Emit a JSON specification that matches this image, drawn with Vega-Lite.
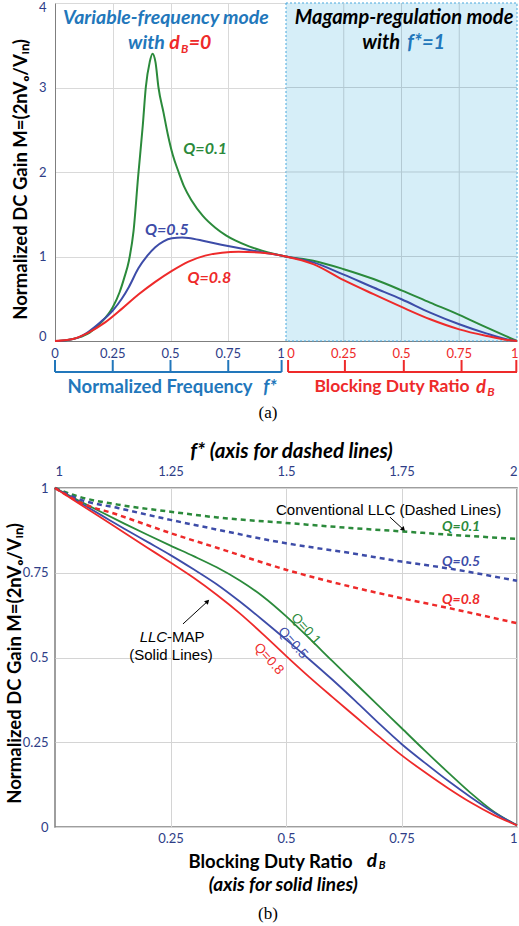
{
  "$schema": "https://vega.github.io/schema/vega-lite/v6.json",
  "background": "white",
  "padding": {"left": 4, "top": 1, "right": 0, "bottom": 0},
  "bounds": "flush",
  "spacing": 147,
  "config": {"font": "Lato", "view": {"stroke": null}, "axis": {"labelFont": "Lato", "titleFont": "Lato"}},
  "vconcat": [
    {
      "width": 462,
      "height": 338,
      "encoding": {
        "x": {"field": "x", "type": "quantitative", "scale": {"domain": [0, 2], "nice": false},
              "axis": {"values": [0.25, 0.5, 0.75], "grid": true, "gridColor": "#D9D9D9", "labels": false, "ticks": false, "domainColor": "#7F7F7F", "title": null}},
        "y": {"field": "y", "type": "quantitative", "scale": {"domain": [0, 4], "nice": false},
              "axis": {"values": [0, 1, 2, 3, 4], "format": "~g", "grid": true, "gridColor": "#D9D9D9", "ticks": false, "domainColor": "#7F7F7F",
                       "labelColor": "#2E3D87", "labelFontSize": 13, "labelPadding": 9, "labelFlush": true, "labelFlushOffset": 2,
                       "title": "Normalized DC Gain M=(2nVₒ/Vᵢₙ)", "titleFontSize": 18.5, "titleFontWeight": "bold", "titleColor": "#000000",
                       "titleX": -35, "titleY": 176, "titleAngle": -90, "titleAlign": "center", "titleBaseline": "middle"}},
        "color": {"field": "g", "type": "nominal",
                  "scale": {"domain": ["0.1", "0.5", "0.8", "f", "d", "k", "lab"], "range": ["#2B8A3B", "#3D4CA8", "#EE2A2A", "#2277BB", "#EE2A2A", "#000000", "#2E3D87"]},
                  "legend": null}
      },
      "layer": [
        {
          "data": {"values": [{"x": 1, "x2": 2, "y": 0, "y2": 4}]},
          "mark": {"type": "rect", "stroke": "#4BA8DC", "strokeDash": [2, 2], "strokeWidth": 1},
          "encoding": {"x2": {"field": "x2"}, "y2": {"field": "y2"}, "color": {"value": "#D6EEF8"}}
        },
        {
          "data": {"values": [
            {"x": 1.25, "x2": 1.25, "y": 0, "y2": 4},
            {"x": 1.5, "x2": 1.5, "y": 0, "y2": 4},
            {"x": 1.75, "x2": 1.75, "y": 0, "y2": 4},
            {"x": 1, "x2": 2, "y": 1, "y2": 1},
            {"x": 1, "x2": 2, "y": 2, "y2": 2},
            {"x": 1, "x2": 2, "y": 3, "y2": 3}
          ]},
          "mark": {"type": "rule", "strokeWidth": 1},
          "encoding": {"x2": {"field": "x2"}, "y2": {"field": "y2"}, "color": {"value": "#B3C9D3"}}
        },
        {
          "data": {"values": [
            {"x": 0, "y": 0, "g": "0.1"}, {"x": 0.05, "y": 0.01, "g": "0.1"}, {"x": 0.1, "y": 0.04, "g": "0.1"}, {"x": 0.15, "y": 0.1, "g": "0.1"},
            {"x": 0.2, "y": 0.22, "g": "0.1"}, {"x": 0.25, "y": 0.4, "g": "0.1"}, {"x": 0.28, "y": 0.58, "g": "0.1"}, {"x": 0.3, "y": 0.75, "g": "0.1"},
            {"x": 0.32, "y": 0.95, "g": "0.1"}, {"x": 0.34, "y": 1.3, "g": "0.1"}, {"x": 0.36, "y": 1.95, "g": "0.1"}, {"x": 0.38, "y": 2.55, "g": "0.1"},
            {"x": 0.393, "y": 3.0, "g": "0.1"}, {"x": 0.41, "y": 3.3, "g": "0.1"}, {"x": 0.422, "y": 3.4, "g": "0.1"}, {"x": 0.435, "y": 3.3, "g": "0.1"},
            {"x": 0.448, "y": 3.0, "g": "0.1"}, {"x": 0.47, "y": 2.7, "g": "0.1"}, {"x": 0.488, "y": 2.45, "g": "0.1"}, {"x": 0.51, "y": 2.2, "g": "0.1"},
            {"x": 0.535, "y": 2.0, "g": "0.1"}, {"x": 0.56, "y": 1.82, "g": "0.1"}, {"x": 0.592, "y": 1.66, "g": "0.1"}, {"x": 0.64, "y": 1.48, "g": "0.1"},
            {"x": 0.694, "y": 1.34, "g": "0.1"}, {"x": 0.74, "y": 1.25, "g": "0.1"}, {"x": 0.78, "y": 1.19, "g": "0.1"}, {"x": 0.84, "y": 1.12, "g": "0.1"},
            {"x": 0.896, "y": 1.07, "g": "0.1"}, {"x": 0.95, "y": 1.03, "g": "0.1"}, {"x": 1.0, "y": 1.0, "g": "0.1"},
            {"x": 1.118, "y": 0.95, "g": "0.1"}, {"x": 1.25, "y": 0.85, "g": "0.1"}, {"x": 1.379, "y": 0.733, "g": "0.1"}, {"x": 1.5, "y": 0.6, "g": "0.1"},
            {"x": 1.624, "y": 0.455, "g": "0.1"}, {"x": 1.75, "y": 0.31, "g": "0.1"}, {"x": 1.87, "y": 0.158, "g": "0.1"}, {"x": 1.95, "y": 0.06, "g": "0.1"}, {"x": 2.0, "y": 0.0, "g": "0.1"},

            {"x": 0, "y": 0, "g": "0.5"}, {"x": 0.05, "y": 0.01, "g": "0.5"}, {"x": 0.1, "y": 0.04, "g": "0.5"}, {"x": 0.145, "y": 0.11, "g": "0.5"},
            {"x": 0.2, "y": 0.23, "g": "0.5"}, {"x": 0.25, "y": 0.36, "g": "0.5"}, {"x": 0.289, "y": 0.5, "g": "0.5"}, {"x": 0.32, "y": 0.64, "g": "0.5"},
            {"x": 0.361, "y": 0.86, "g": "0.5"}, {"x": 0.4, "y": 1.01, "g": "0.5"}, {"x": 0.434, "y": 1.11, "g": "0.5"}, {"x": 0.47, "y": 1.18, "g": "0.5"},
            {"x": 0.506, "y": 1.215, "g": "0.5"}, {"x": 0.55, "y": 1.225, "g": "0.5"}, {"x": 0.578, "y": 1.22, "g": "0.5"}, {"x": 0.65, "y": 1.18, "g": "0.5"},
            {"x": 0.72, "y": 1.14, "g": "0.5"}, {"x": 0.795, "y": 1.1, "g": "0.5"}, {"x": 0.896, "y": 1.05, "g": "0.5"}, {"x": 1.0, "y": 1.0, "g": "0.5"},
            {"x": 1.118, "y": 0.93, "g": "0.5"}, {"x": 1.25, "y": 0.785, "g": "0.5"}, {"x": 1.379, "y": 0.633, "g": "0.5"}, {"x": 1.5, "y": 0.494, "g": "0.5"},
            {"x": 1.624, "y": 0.336, "g": "0.5"}, {"x": 1.75, "y": 0.198, "g": "0.5"}, {"x": 1.87, "y": 0.087, "g": "0.5"}, {"x": 1.95, "y": 0.025, "g": "0.5"}, {"x": 2.0, "y": 0.0, "g": "0.5"},

            {"x": 0, "y": 0, "g": "0.8"}, {"x": 0.072, "y": 0.02, "g": "0.8"}, {"x": 0.145, "y": 0.1, "g": "0.8"}, {"x": 0.217, "y": 0.22, "g": "0.8"},
            {"x": 0.289, "y": 0.38, "g": "0.8"}, {"x": 0.361, "y": 0.55, "g": "0.8"}, {"x": 0.434, "y": 0.7, "g": "0.8"}, {"x": 0.506, "y": 0.83, "g": "0.8"},
            {"x": 0.578, "y": 0.94, "g": "0.8"}, {"x": 0.65, "y": 1.01, "g": "0.8"}, {"x": 0.723, "y": 1.045, "g": "0.8"}, {"x": 0.795, "y": 1.055, "g": "0.8"},
            {"x": 0.896, "y": 1.045, "g": "0.8"}, {"x": 1.0, "y": 1.0, "g": "0.8"},
            {"x": 1.118, "y": 0.91, "g": "0.8"}, {"x": 1.25, "y": 0.72, "g": "0.8"}, {"x": 1.379, "y": 0.554, "g": "0.8"}, {"x": 1.5, "y": 0.403, "g": "0.8"},
            {"x": 1.624, "y": 0.257, "g": "0.8"}, {"x": 1.75, "y": 0.138, "g": "0.8"}, {"x": 1.87, "y": 0.059, "g": "0.8"}, {"x": 1.95, "y": 0.015, "g": "0.8"}, {"x": 2.0, "y": 0.0, "g": "0.8"}
          ]},
          "mark": {"type": "line", "strokeWidth": 2, "interpolate": "monotone"}
        },
        {
          "data": {"values": [
            {"x": 0, "x2": 0.981, "y": -0.367, "y2": -0.367, "g": "f"},
            {"x": 0, "x2": 0, "y": -0.225, "y2": -0.367, "g": "f"},
            {"x": 0.25, "x2": 0.25, "y": -0.225, "y2": -0.367, "g": "f"},
            {"x": 0.5, "x2": 0.5, "y": -0.225, "y2": -0.367, "g": "f"},
            {"x": 0.75, "x2": 0.75, "y": -0.225, "y2": -0.367, "g": "f"},
            {"x": 0.981, "x2": 0.981, "y": -0.225, "y2": -0.367, "g": "f"},
            {"x": 1.009, "x2": 2.0, "y": -0.367, "y2": -0.367, "g": "d"},
            {"x": 1.009, "x2": 1.009, "y": -0.225, "y2": -0.367, "g": "d"},
            {"x": 1.255, "x2": 1.255, "y": -0.225, "y2": -0.367, "g": "d"},
            {"x": 1.51, "x2": 1.51, "y": -0.225, "y2": -0.367, "g": "d"},
            {"x": 1.76, "x2": 1.76, "y": -0.225, "y2": -0.367, "g": "d"},
            {"x": 1.997, "x2": 1.997, "y": -0.225, "y2": -0.367, "g": "d"}
          ]},
          "mark": {"type": "rule", "strokeWidth": 2},
          "encoding": {"x2": {"field": "x2"}, "y2": {"field": "y2"}}
        },
        {
          "data": {"values": [
            {"x": 0, "y": -0.154, "t": "0", "g": "lab"},
            {"x": 0.25, "y": -0.154, "t": "0.25", "g": "lab"},
            {"x": 0.5, "y": -0.154, "t": "0.5", "g": "lab"},
            {"x": 0.75, "y": -0.154, "t": "0.75", "g": "lab"},
            {"x": 0.978, "y": -0.154, "t": "1", "g": "lab"},
            {"x": 1.022, "y": -0.154, "t": "0", "g": "d"},
            {"x": 1.25, "y": -0.154, "t": "0.25", "g": "d"},
            {"x": 1.5, "y": -0.154, "t": "0.5", "g": "d"},
            {"x": 1.75, "y": -0.154, "t": "0.75", "g": "d"},
            {"x": 1.99, "y": -0.154, "t": "1", "g": "d"}
          ]},
          "mark": {"type": "text", "font": "Lato", "fontSize": 13, "baseline": "middle", "align": "center"},
          "encoding": {"text": {"field": "t"}}
        },
        {
          "data": {"values": [
            {"x": 0.48, "y": 3.82, "t": "Variable-frequency mode", "g": "f"},
            {"x": 0.396, "y": 3.53, "t": "with", "g": "f"},
            {"x": 0.517, "y": 3.53, "t": "d", "g": "d"},
            {"x": 0.628, "y": 3.53, "t": "=0", "g": "d"}
          ]},
          "mark": {"type": "text", "font": "Lato", "fontSize": 19.5, "fontWeight": "bold", "fontStyle": "italic", "baseline": "middle", "align": "center"},
          "encoding": {"text": {"field": "t"}}
        },
        {
          "data": {"values": [
            {"x": 1.511, "y": 3.82, "t": "Magamp-regulation mode", "g": "k"},
            {"x": 1.412, "y": 3.53, "t": "with", "g": "k"},
            {"x": 1.607, "y": 3.53, "t": "f*=1", "g": "f"}
          ]},
          "mark": {"type": "text", "font": "Lato", "fontSize": 20, "fontWeight": "bold", "fontStyle": "italic", "baseline": "middle", "align": "center"},
          "encoding": {"text": {"field": "t"}}
        },
        {
          "data": {"values": [
            {"x": 0.65, "y": 2.27, "t": "Q=0.1", "g": "0.1"},
            {"x": 0.484, "y": 1.31, "t": "Q=0.5", "g": "0.5"},
            {"x": 0.668, "y": 0.746, "t": "Q=0.8", "g": "0.8"}
          ]},
          "mark": {"type": "text", "font": "Lato", "fontSize": 16, "fontWeight": "bold", "fontStyle": "italic", "baseline": "middle", "align": "center"},
          "encoding": {"text": {"field": "t"}}
        },
        {
          "data": {"values": [
            {"x": 0.561, "y": 3.45, "t": "B", "g": "d"},
            {"x": 1.887, "y": -0.6, "t": "B", "g": "d"}
          ]},
          "mark": {"type": "text", "font": "Lato", "fontSize": 12, "fontWeight": "bold", "fontStyle": "italic", "baseline": "middle", "align": "center"},
          "encoding": {"text": {"field": "t"}}
        },
        {
          "data": {"values": [{"x": 0.455, "y": -0.544, "t": "Normalized Frequency", "g": "f"}]},
          "mark": {"type": "text", "font": "Lato", "fontSize": 18.5, "fontWeight": "bold", "baseline": "middle", "align": "center"},
          "encoding": {"text": {"field": "t"}}
        },
        {
          "data": {"values": [{"x": 1.459, "y": -0.544, "t": "Blocking Duty Ratio", "g": "d"}]},
          "mark": {"type": "text", "font": "Lato", "fontSize": 17.5, "fontWeight": "bold", "baseline": "middle", "align": "center"},
          "encoding": {"text": {"field": "t"}}
        },
        {
          "data": {"values": [
            {"x": 0.931, "y": -0.544, "t": "f*", "g": "f"},
            {"x": 1.844, "y": -0.544, "t": "d", "g": "d"}
          ]},
          "mark": {"type": "text", "font": "Lato", "fontSize": 18.5, "fontWeight": "bold", "fontStyle": "italic", "baseline": "middle", "align": "center"},
          "encoding": {"text": {"field": "t"}}
        },
        {
          "data": {"values": [{"x": 0.922, "y": -0.852, "t": "(a)", "g": "k"}]},
          "mark": {"type": "text", "font": "Liberation Serif", "fontSize": 17, "baseline": "middle", "align": "center"},
          "encoding": {"text": {"field": "t"}}
        }
      ]
    },
    {
      "width": 462,
      "height": 339,
      "view": {"stroke": "#7F7F7F", "strokeWidth": 1.5},
      "resolve": {"scale": {"x": "independent"}, "axis": {"x": "independent", "y": "independent"}},
      "layer": [
        {
          "encoding": {
            "x": {"field": "x", "type": "quantitative", "scale": {"domain": [0, 1], "nice": false},
                  "axis": {"orient": "bottom", "values": [0.25, 0.5, 0.75, 1], "labelExpr": "'' + datum.value", "grid": true, "gridColor": "#D4D4D4", "ticks": false, "domain": false,
                           "labelColor": "#2E3D87", "labelFontSize": 13, "labelPadding": 5,
                           "title": "Blocking Duty Ratio", "titleFontSize": 18.5, "titleFontWeight": "bold", "titleColor": "#000000",
                           "titleX": 215, "titleY": 34, "titleAlign": "center", "titleBaseline": "middle"}},
            "y": {"field": "y", "type": "quantitative", "scale": {"domain": [0, 1], "nice": false},
                  "axis": {"values": [0, 0.25, 0.5, 0.75, 1], "labelExpr": "'' + datum.value", "grid": true, "gridColor": "#D4D4D4", "ticks": false, "domain": false,
                           "labelColor": "#2E3D87", "labelFontSize": 13, "labelPadding": 7,
                           "title": "Normalized DC Gain  M=(2nVₒ/Vᵢₙ)", "titleFontSize": 18.5, "titleFontWeight": "bold", "titleColor": "#000000",
                           "titleX": -41, "titleY": 175, "titleAngle": -90, "titleAlign": "center", "titleBaseline": "middle"}},
            "color": {"field": "g", "type": "nominal",
                      "scale": {"domain": ["0.1", "0.5", "0.8", "f", "d", "k", "lab"], "range": ["#2B8A3B", "#3D4CA8", "#EE2A2A", "#2277BB", "#EE2A2A", "#000000", "#2E3D87"]},
                      "legend": null}
          },
          "layer": [
            {
              "data": {"values": [
                {"x": 0, "y": 1, "g": "0.1"}, {"x": 0.05, "y": 0.964, "g": "0.1"}, {"x": 0.1, "y": 0.929, "g": "0.1"}, {"x": 0.15, "y": 0.895, "g": "0.1"},
                {"x": 0.2, "y": 0.862, "g": "0.1"}, {"x": 0.25, "y": 0.83, "g": "0.1"}, {"x": 0.3, "y": 0.799, "g": "0.1"}, {"x": 0.35, "y": 0.766, "g": "0.1"},
                {"x": 0.4, "y": 0.727, "g": "0.1"}, {"x": 0.45, "y": 0.68, "g": "0.1"}, {"x": 0.5, "y": 0.622, "g": "0.1"}, {"x": 0.55, "y": 0.557, "g": "0.1"},
                {"x": 0.6, "y": 0.49, "g": "0.1"}, {"x": 0.65, "y": 0.424, "g": "0.1"}, {"x": 0.7, "y": 0.358, "g": "0.1"}, {"x": 0.75, "y": 0.292, "g": "0.1"},
                {"x": 0.8, "y": 0.226, "g": "0.1"}, {"x": 0.85, "y": 0.162, "g": "0.1"}, {"x": 0.9, "y": 0.1, "g": "0.1"}, {"x": 0.95, "y": 0.045, "g": "0.1"}, {"x": 1, "y": 0.005, "g": "0.1"},
                {"x": 0, "y": 1, "g": "0.5"}, {"x": 0.05, "y": 0.96, "g": "0.5"}, {"x": 0.1, "y": 0.92, "g": "0.5"}, {"x": 0.15, "y": 0.88, "g": "0.5"},
                {"x": 0.2, "y": 0.841, "g": "0.5"}, {"x": 0.25, "y": 0.802, "g": "0.5"}, {"x": 0.3, "y": 0.76, "g": "0.5"}, {"x": 0.35, "y": 0.716, "g": "0.5"},
                {"x": 0.4, "y": 0.665, "g": "0.5"}, {"x": 0.45, "y": 0.61, "g": "0.5"}, {"x": 0.5, "y": 0.553, "g": "0.5"}, {"x": 0.55, "y": 0.495, "g": "0.5"},
                {"x": 0.6, "y": 0.435, "g": "0.5"}, {"x": 0.65, "y": 0.372, "g": "0.5"}, {"x": 0.7, "y": 0.307, "g": "0.5"}, {"x": 0.75, "y": 0.245, "g": "0.5"},
                {"x": 0.8, "y": 0.19, "g": "0.5"}, {"x": 0.85, "y": 0.137, "g": "0.5"}, {"x": 0.9, "y": 0.088, "g": "0.5"}, {"x": 0.95, "y": 0.043, "g": "0.5"}, {"x": 1, "y": 0.005, "g": "0.5"},
                {"x": 0, "y": 1, "g": "0.8"}, {"x": 0.05, "y": 0.956, "g": "0.8"}, {"x": 0.1, "y": 0.912, "g": "0.8"}, {"x": 0.15, "y": 0.868, "g": "0.8"},
                {"x": 0.2, "y": 0.824, "g": "0.8"}, {"x": 0.25, "y": 0.78, "g": "0.8"}, {"x": 0.3, "y": 0.735, "g": "0.8"}, {"x": 0.35, "y": 0.685, "g": "0.8"},
                {"x": 0.4, "y": 0.63, "g": "0.8"}, {"x": 0.45, "y": 0.569, "g": "0.8"}, {"x": 0.5, "y": 0.505, "g": "0.8"}, {"x": 0.55, "y": 0.443, "g": "0.8"},
                {"x": 0.6, "y": 0.384, "g": "0.8"}, {"x": 0.65, "y": 0.326, "g": "0.8"}, {"x": 0.7, "y": 0.268, "g": "0.8"}, {"x": 0.75, "y": 0.212, "g": "0.8"},
                {"x": 0.8, "y": 0.162, "g": "0.8"}, {"x": 0.85, "y": 0.115, "g": "0.8"}, {"x": 0.9, "y": 0.072, "g": "0.8"}, {"x": 0.95, "y": 0.035, "g": "0.8"}, {"x": 1, "y": 0.005, "g": "0.8"}
              ]},
              "mark": {"type": "line", "strokeWidth": 1.8, "interpolate": "monotone"}
            },
            {
              "data": {"values": [
                {"x": 0.725, "y": 0.914, "x2": 0.753, "y2": 0.879},
                {"x": 0.277, "y": 0.599, "x2": 0.329, "y2": 0.664}
              ]},
              "mark": {"type": "rule", "strokeWidth": 1},
              "encoding": {"x2": {"field": "x2"}, "y2": {"field": "y2"}, "color": {"value": "#000000"}}
            },
            {
              "data": {"values": [{"x": 0.753, "y": 0.879}]},
              "mark": {"type": "point", "shape": "triangle", "filled": true, "angle": 135, "size": 28, "opacity": 1},
              "encoding": {"color": {"value": "#000000"}}
            },
            {
              "data": {"values": [{"x": 0.329, "y": 0.664}]},
              "mark": {"type": "point", "shape": "triangle", "filled": true, "angle": 44, "size": 28, "opacity": 1},
              "encoding": {"color": {"value": "#000000"}}
            },
            {
              "data": {"values": [
                {"x": 0.722, "y": 0.935, "t": "Conventional LLC (Dashed Lines)", "g": "k"},
                {"x": 0.283, "y": 0.56, "t": "-MAP", "g": "k"},
                {"x": 0.251, "y": 0.507, "t": "(Solid Lines)", "g": "k"}
              ]},
              "mark": {"type": "text", "font": "Liberation Sans", "fontSize": 15, "baseline": "middle", "align": "center"},
              "encoding": {"text": {"field": "t"}}
            },
            {
              "data": {"values": [{"x": 0.213, "y": 0.56, "t": "LLC", "g": "k"}]},
              "mark": {"type": "text", "font": "Liberation Sans", "fontSize": 15, "fontStyle": "italic", "baseline": "middle", "align": "center"},
              "encoding": {"text": {"field": "t"}}
            },
            {
              "data": {"values": [
                {"x": 0.879, "y": 0.885, "t": "Q=0.1", "g": "0.1"},
                {"x": 0.879, "y": 0.782, "t": "Q=0.5", "g": "0.5"},
                {"x": 0.879, "y": 0.67, "t": "Q=0.8", "g": "0.8"}
              ]},
              "mark": {"type": "text", "font": "Lato", "fontSize": 14, "fontWeight": "bold", "fontStyle": "italic", "baseline": "middle", "align": "center"},
              "encoding": {"text": {"field": "t"}}
            },
            {
              "data": {"values": [
                {"x": 0.543, "y": 0.584, "t": "Q=0.1", "g": "0.1"},
                {"x": 0.515, "y": 0.543, "t": "Q=0.5", "g": "0.5"},
                {"x": 0.463, "y": 0.496, "t": "Q=0.8", "g": "0.8"}
              ]},
              "mark": {"type": "text", "font": "Liberation Sans", "fontSize": 13.5, "angle": 48, "baseline": "middle", "align": "center"},
              "encoding": {"text": {"field": "t"}}
            },
            {
              "data": {"values": [
                {"x": 0.494, "y": -0.171, "t": "(axis for solid lines)", "g": "k"},
                {"x": 0.686, "y": -0.1, "t": "d", "g": "k"}
              ]},
              "mark": {"type": "text", "font": "Lato", "fontSize": 19, "fontWeight": "bold", "fontStyle": "italic", "baseline": "middle", "align": "center"},
              "encoding": {"text": {"field": "t"}}
            },
            {
              "data": {"values": [{"x": 0.708, "y": -0.115, "t": "B", "g": "k"}]},
              "mark": {"type": "text", "font": "Lato", "fontSize": 11, "fontWeight": "bold", "fontStyle": "italic", "baseline": "middle", "align": "center"},
              "encoding": {"text": {"field": "t"}}
            },
            {
              "data": {"values": [{"x": 0.461, "y": -0.257, "t": "(b)", "g": "k"}]},
              "mark": {"type": "text", "font": "Liberation Serif", "fontSize": 17, "baseline": "middle", "align": "center"},
              "encoding": {"text": {"field": "t"}}
            }
          ]
        },
        {
          "data": {"values": [
            {"f": 1, "y": 1, "g": "0.1"}, {"f": 1.05, "y": 0.975, "g": "0.1"}, {"f": 1.136, "y": 0.951, "g": "0.1"}, {"f": 1.25, "y": 0.93, "g": "0.1"},
            {"f": 1.352, "y": 0.913, "g": "0.1"}, {"f": 1.5, "y": 0.897, "g": "0.1"}, {"f": 1.64, "y": 0.882, "g": "0.1"}, {"f": 1.75, "y": 0.872, "g": "0.1"},
            {"f": 1.855, "y": 0.862, "g": "0.1"}, {"f": 2, "y": 0.85, "g": "0.1"},
            {"f": 1, "y": 1, "g": "0.5"}, {"f": 1.05, "y": 0.968, "g": "0.5"}, {"f": 1.136, "y": 0.941, "g": "0.5"}, {"f": 1.25, "y": 0.906, "g": "0.5"},
            {"f": 1.352, "y": 0.877, "g": "0.5"}, {"f": 1.5, "y": 0.837, "g": "0.5"}, {"f": 1.64, "y": 0.808, "g": "0.5"}, {"f": 1.75, "y": 0.783, "g": "0.5"},
            {"f": 1.855, "y": 0.762, "g": "0.5"}, {"f": 2, "y": 0.726, "g": "0.5"},
            {"f": 1, "y": 1, "g": "0.8"}, {"f": 1.05, "y": 0.96, "g": "0.8"}, {"f": 1.136, "y": 0.921, "g": "0.8"}, {"f": 1.25, "y": 0.867, "g": "0.8"},
            {"f": 1.352, "y": 0.823, "g": "0.8"}, {"f": 1.5, "y": 0.759, "g": "0.8"}, {"f": 1.64, "y": 0.709, "g": "0.8"}, {"f": 1.75, "y": 0.675, "g": "0.8"},
            {"f": 1.855, "y": 0.645, "g": "0.8"}, {"f": 2, "y": 0.601, "g": "0.8"}
          ]},
          "mark": {"type": "line", "strokeWidth": 2.5, "strokeDash": [5, 4], "interpolate": "monotone"},
          "encoding": {
            "x": {"field": "f", "type": "quantitative", "scale": {"domain": [1, 2], "nice": false},
                  "axis": {"orient": "top", "values": [1, 1.25, 1.5, 1.75, 2], "labelExpr": "'' + datum.value", "grid": false, "ticks": false, "domain": false,
                           "labelColor": "#2E3D87", "labelFontSize": 13, "labelPadding": 10,
                           "title": "f* (axis for dashed lines)", "titleFontSize": 20.5, "titleFontWeight": "bold", "titleFontStyle": "italic", "titleColor": "#000000",
                           "titleX": 236, "titleY": -37, "titleAlign": "center", "titleBaseline": "middle"}},
            "y": {"field": "y", "type": "quantitative", "scale": {"domain": [0, 1], "nice": false}, "axis": null},
            "color": {"field": "g", "type": "nominal",
                      "scale": {"domain": ["0.1", "0.5", "0.8", "f", "d", "k", "lab"], "range": ["#2B8A3B", "#3D4CA8", "#EE2A2A", "#2277BB", "#EE2A2A", "#000000", "#2E3D87"]},
                      "legend": null}
          }
        }
      ]
    }
  ]
}
